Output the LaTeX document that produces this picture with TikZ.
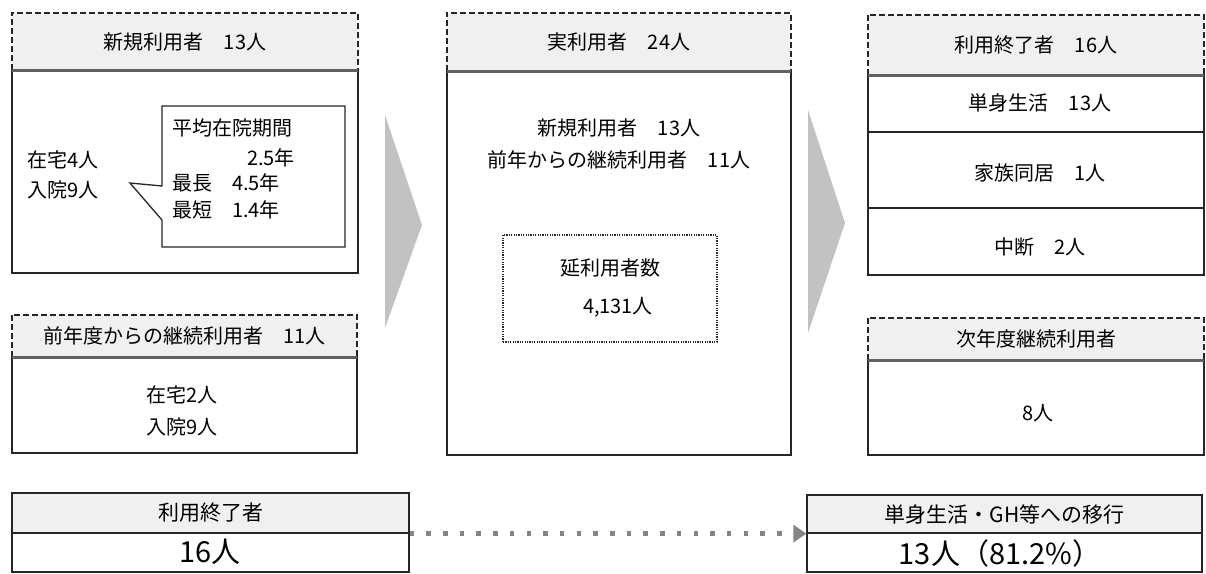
\documentclass[tikz,border=0pt]{standalone}
\usepackage{fontspec}
\newfontfamily\jpfont{Noto Sans CJK JP}
\usetikzlibrary{arrows.meta}
\newlength{\du}
\setlength{\du}{1pt}
\definecolor{headgray}{rgb}{0.940000, 0.940000, 0.940000}
\definecolor{chevgray}{rgb}{0.760000, 0.760000, 0.760000}
\definecolor{dotgray}{rgb}{0.520000, 0.520000, 0.520000}
\definecolor{linegray}{rgb}{0.380000, 0.380000, 0.380000}
\definecolor{boxline}{rgb}{0.150000, 0.150000, 0.150000}

\begin{document}
\begin{tikzpicture}[
  jp/.style={font=\jpfont\fontsize{20}{23}\selectfont, inner sep=0pt},
  jpbig/.style={font=\jpfont\fontsize{29}{33}\selectfont, inner sep=0pt},
  headbox/.style={fill=headgray, draw=none, inner sep=0pt},
  bodybox/.style={draw=boxline, line width=1.3\du, inner sep=0pt},
  plainhead/.style={fill=headgray, draw=boxline, line width=1.3\du, inner sep=0pt},
  dashside/.style={draw=boxline, line width=1.6\du, dash pattern=on 6\du off 3\du},
  divider/.style={draw=linegray, line width=2.6\du},
  rowline/.style={draw=boxline, line width=1.3\du},
  dotbox/.style={draw=boxline, line width=1.8\du, dash pattern=on 1.2\du off 1.2\du, inner sep=0pt},
  chevron/.style={fill=chevgray, draw=none},
  dotarrow/.style={draw=dotgray, line width=4.5\du, dash pattern=on 4.5\du off 12.2\du,
    -{Triangle[length=13pt,width=17pt]}}
]
\pgftransformxscale{1.000000}
\pgftransformyscale{-1.000000}
\useasboundingbox (0\du,0\du) rectangle (1206\du,573\du);
% chevrons
\fill[chevron] (385\du,115\du)--(422\du,225\du)--(385\du,328\du)--cycle;
\fill[chevron] (808\du,110\du)--(845\du,223\du)--(808\du,333\du)--cycle;
% new users
\node[headbox, jp, minimum width=346\du, minimum height=57\du] (newhd) at (185\du,41.5\du) {新規利用者　13人};
\node[bodybox, minimum width=346\du, minimum height=203\du] (newbd) at (185\du,171.5\du) {};
\draw[dashside] (newhd.south west)--(newhd.north west)--(newhd.north east)--(newhd.south east);
\draw[divider] (newhd.south west)--(newhd.south east);
\draw[draw=boxline, line width=1.3\du, fill=white] (162\du,106\du)--(345\du,106\du)--(345\du,247\du)--(162\du,247\du)--(162\du,220\du)--(130\du,183\du)--(162\du,186\du)--cycle;
% setfont left to latex
\node[jp, anchor=west] (home1) at (27\du,160\du) {在宅4人};
\node[jp, anchor=west] (hosp1) at (27\du,190\du) {入院9人};
\node[jp, anchor=west] (avgstay) at (172\du,128\du) {平均在院期間};
\node[jp, anchor=west] (avgval) at (247\du,158\du) {2.5年};
\node[jp, anchor=west] (maxstay) at (172\du,183\du) {最長　4.5年};
\node[jp, anchor=west] (minstay) at (172\du,210\du) {最短　1.4年};
% continuing users
\node[headbox, jp, minimum width=345\du, minimum height=42\du] (conthd) at (184.5\du,336\du) {前年度からの継続利用者　11人};
\node[bodybox, minimum width=345\du, minimum height=96\du] (contbd) at (184.5\du,405\du) {};
\draw[dashside] (conthd.south west)--(conthd.north west)--(conthd.north east)--(conthd.south east);
\draw[divider] (conthd.south west)--(conthd.south east);
\node[jp] (home2) at (182\du,395\du) {在宅2人};
\node[jp] (hosp2) at (182\du,427\du) {入院9人};
% actual users
\node[headbox, jp, minimum width=344\du, minimum height=58\du] (realhd) at (619\du,42\du) {実利用者　24人};
\node[bodybox, minimum width=344\du, minimum height=384\du] (realbd) at (619\du,263\du) {};
\draw[dashside] (realhd.south west)--(realhd.north west)--(realhd.north east)--(realhd.south east);
\draw[divider] (realhd.south west)--(realhd.south east);
\node[jp] (newsum) at (619\du,128\du) {新規利用者　13人};
\node[jp] (contsum) at (619\du,160\du) {前年からの継続利用者　11人};
\node[dotbox, minimum width=214\du, minimum height=107\du] (totbox) at (610\du,288.5\du) {};
\node[jp] (totlbl) at (610\du,268\du) {延利用者数};
\node[jp] (totval) at (618\du,307\du) {4,131人};
% ended users
\node[headbox, jp, minimum width=336\du, minimum height=60\du] (endhd1) at (1036\du,45\du) {利用終了者　16人};
\node[bodybox, minimum width=336\du, minimum height=200\du] (endbd1) at (1036\du,175\du) {};
\draw[dashside] (endhd1.south west)--(endhd1.north west)--(endhd1.north east)--(endhd1.south east);
\draw[divider] (endhd1.south west)--(endhd1.south east);
\draw[rowline] (868\du,132\du)--(1204\du,132\du);
\draw[rowline] (868\du,208\du)--(1204\du,208\du);
\node[jp] (single) at (1040\du,103\du) {単身生活　13人};
\node[jp] (family) at (1040\du,173\du) {家族同居　1人};
\node[jp] (halt) at (1040\du,247\du) {中断　2人};
% next year
\node[headbox, jp, minimum width=336\du, minimum height=42\du] (nexthd) at (1036\du,339\du) {次年度継続利用者};
\node[bodybox, minimum width=336\du, minimum height=95\du] (nextbd) at (1036\du,407.5\du) {};
\draw[dashside] (nexthd.south west)--(nexthd.north west)--(nexthd.north east)--(nexthd.south east);
\draw[divider] (nexthd.south west)--(nexthd.south east);
\node[jp] (nextval) at (1038\du,413\du) {8人};
% bottom row
\node[plainhead, minimum width=397\du, minimum height=40\du, font=\jpfont\fontsize{21}{24}\selectfont] (endhd) at (210.5\du,513\du) {利用終了者};
\node[bodybox, minimum width=397\du, minimum height=39\du] (endbd) at (210.5\du,552.5\du) {};
\node[jpbig] (endval) at (210\du,552\du) {16人};
\node[plainhead, minimum width=395\du, minimum height=38\du, font=\jpfont\fontsize{21}{24}\selectfont] (movehd) at (1004.5\du,514\du) {単身生活・GH等への移行};
\node[bodybox, minimum width=395\du, minimum height=39\du] (movebd) at (1004.5\du,552.5\du) {};
\node[jpbig] (moveval) at (1000\du,553\du) {13人（81.2\%）};
\draw[dotarrow] (endhd.south east)--(movehd.south west);
\end{tikzpicture}
\end{document}
